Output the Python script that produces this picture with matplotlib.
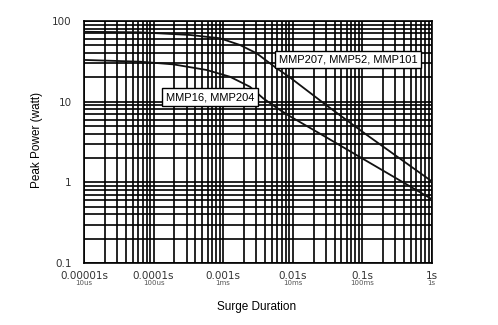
import matplotlib.pyplot as plt
from matplotlib.ticker import LogLocator, NullFormatter

# upper curve: MMP207, MMP52, MMP101
t_upper = [1e-5, 6.4e-5, 3.33e-4, 9.0e-4, 1.74e-3, 3.03e-3, 5.55e-3, 9.12e-3, 0.0307, 0.115, 1.0]
p_upper = [73.5, 72.4, 67.1, 61.1, 50.5, 39.8, 26.9, 20.0, 9.0, 3.9, 1.03]

# lower curve: MMP16, MMP204
t_lower = [1e-5, 6.4e-5, 1.92e-4, 5.8e-4, 1.25e-3, 2.43e-3, 3.77e-3, 6.55e-3, 9.12e-3, 0.0307, 0.0925, 1.0]
p_lower = [32.9, 31.3, 29.0, 24.7, 20.4, 15.3, 11.0, 7.9, 6.6, 3.6, 2.06, 0.62]

xticks = [1e-5, 1e-4, 1e-3, 1e-2, 1e-1, 1]
xlabels = ["0.00001s", "0.0001s", "0.001s", "0.01s", "0.1s", "1s"]
xsub = ["10us", "100us", "1ms", "10ms", "100ms", "1s"]
yticks = [0.1, 1, 10, 100]
ylabels = ["0.1", "1", "10", "100"]

plt.rcParams['font.family'] = ['Liberation Sans', 'DejaVu Sans']

fig = plt.figure(figsize=(4.98, 3.25), dpi=100)
ax = fig.add_axes([0.1687, 0.1908, 0.6982, 0.7446])

ax.set_xscale("log")
ax.set_yscale("log")
ax.set_xlim(1e-5, 1)
ax.set_ylim(0.1, 100)

ax.xaxis.set_minor_locator(LogLocator(base=10, subs=range(2, 10), numticks=20))
ax.yaxis.set_minor_locator(LogLocator(base=10, subs=range(2, 10), numticks=20))
ax.xaxis.set_minor_formatter(NullFormatter())
ax.yaxis.set_minor_formatter(NullFormatter())
ax.grid(True, which="both", color="black", linewidth=1.2)
for s in ax.spines.values():
    s.set_linewidth(1.2)

ax.plot(t_upper, p_upper, color="#111111", linewidth=1.3, zorder=3)
ax.plot(t_lower, p_lower, color="#111111", linewidth=1.3, zorder=3)

ax.set_xticks(xticks)
ax.set_xticklabels(xlabels, fontsize=7.5, color="#333333", family="DejaVu Sans")
ax.set_yticks(yticks)
ax.set_yticklabels(ylabels, fontsize=7.5, color="#333333", family="DejaVu Sans")
ax.tick_params(which="both", length=0)
ax.tick_params(axis="x", pad=6)
ax.tick_params(axis="y", pad=9)

for xt, sub in zip(xticks, xsub):
    ax.annotate(sub, xy=(xt, 0.1), xycoords="data", xytext=(0, -14.5),
                textcoords="offset points", ha="center", va="center",
                fontsize=5, color="#555555", family="DejaVu Sans",
                annotation_clip=False)

box = dict(boxstyle="square,pad=0.35", facecolor="white", edgecolor="black", linewidth=1.0)
ax.text(0.063, 33.4, "MMP207, MMP52, MMP101", fontsize=8, ha="center", va="center",
        bbox=box, zorder=4)
ax.text(6.46e-4, 11.4, "MMP16, MMP204", fontsize=8, ha="center", va="center",
        bbox=box, zorder=4)

fig.text(37 / 498, 1 - 140 / 325, "Peak Power (watt)", rotation=90, fontsize=8.5,
         ha="center", va="center")
fig.text(257 / 498, 1 - 307 / 325, "Surge Duration", fontsize=8.5,
         ha="center", va="center")

fig.savefig("out.png", dpi=100)
